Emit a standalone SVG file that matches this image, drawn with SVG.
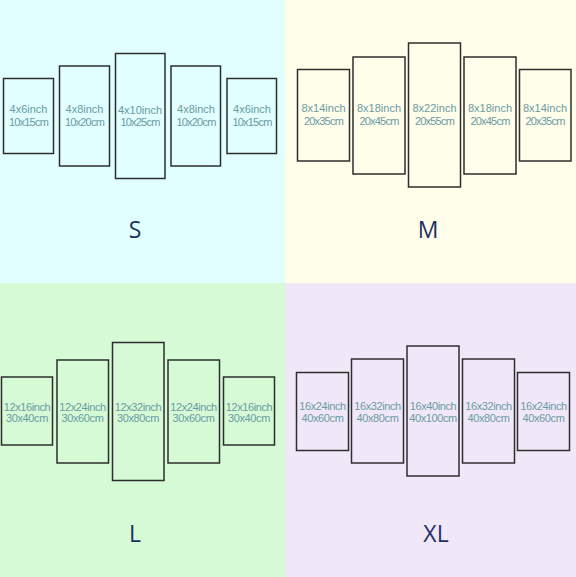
<svg xmlns="http://www.w3.org/2000/svg" width="576" height="577" viewBox="0 0 576 577">
<style>
.p{fill:none;stroke:#2e2e2e;stroke-width:1.5}
.t{font-family:"Liberation Sans",Arial,sans-serif;font-size:11px;fill:#6b9aa3;text-anchor:middle}
.n{letter-spacing:-0.8px}
.w{letter-spacing:-0.4px}
.lab{font-family:"Open Sans","Noto Sans",sans-serif;font-size:23px;fill:#1c3163;text-anchor:middle}
</style>
<rect x="0" y="0" width="285" height="283" fill="#e0fffe"/>
<rect x="285" y="0" width="291" height="283" fill="#fffeea"/>
<rect x="0" y="283" width="285" height="294" fill="#d5fad5"/>
<rect x="285" y="283" width="291" height="294" fill="#f0e8f8"/>
<g id="S">
<g id="s1"><rect class="p" x="3.5" y="78.5" width="50" height="75"/><text class="t" x="28.5" y="113">4x6inch</text><text class="t n" x="28.5" y="126">10x15cm</text></g>
<g id="s2"><rect class="p" x="59.5" y="66" width="50" height="100"/><text class="t" x="84.5" y="113">4x8inch</text><text class="t n" x="84.5" y="126">10x20cm</text></g>
<g id="s3"><rect class="p" x="115.5" y="53.5" width="49.5" height="125"/><text class="t" x="140" y="113.5">4x10inch</text><text class="t n" x="140" y="125.5">10x25cm</text></g>
<g id="s4"><rect class="p" x="171" y="66" width="49.5" height="100"/><text class="t" x="196" y="113">4x8inch</text><text class="t n" x="196" y="126">10x20cm</text></g>
<g id="s5"><rect class="p" x="227" y="78.5" width="49.5" height="75"/><text class="t" x="252" y="113">4x6inch</text><text class="t n" x="252" y="126">10x15cm</text></g>
<text class="lab" x="135" y="238">S</text>
</g>
<g id="M">
<g id="m1"><rect class="p" x="297.5" y="69.5" width="52" height="91.5"/><text class="t" x="323.5" y="111.5">8x14inch</text><text class="t n" x="323.5" y="125">20x35cm</text></g>
<g id="m2"><rect class="p" x="353" y="57" width="52" height="117"/><text class="t" x="379" y="111.5">8x18inch</text><text class="t n" x="379" y="125">20x45cm</text></g>
<g id="m3"><rect class="p" x="408.5" y="43" width="52" height="144"/><text class="t" x="434.5" y="111.5">8x22inch</text><text class="t n" x="434.5" y="125">20x55cm</text></g>
<g id="m4"><rect class="p" x="464" y="57" width="52" height="117"/><text class="t" x="490" y="111.5">8x18inch</text><text class="t n" x="490" y="125">20x45cm</text></g>
<g id="m5"><rect class="p" x="519.5" y="69.5" width="51.5" height="91.5"/><text class="t" x="545" y="111.5">8x14inch</text><text class="t n" x="545" y="125">20x35cm</text></g>
<text class="lab" x="428" y="238">M</text>
</g>
<g id="L">
<g id="l1"><rect class="p" x="1.5" y="377" width="51" height="68"/><text class="t w" x="27" y="410.5">12x16inch</text><text class="t w" x="27" y="422">30x40cm</text></g>
<g id="l2"><rect class="p" x="57" y="360" width="51.5" height="103"/><text class="t w" x="82.5" y="410.5">12x24inch</text><text class="t w" x="82.5" y="422">30x60cm</text></g>
<g id="l3"><rect class="p" x="112.5" y="342.5" width="51.5" height="138"/><text class="t w" x="138" y="410.5">12x32inch</text><text class="t w" x="138" y="422">30x80cm</text></g>
<g id="l4"><rect class="p" x="168" y="360" width="51.5" height="103"/><text class="t w" x="193.5" y="410.5">12x24inch</text><text class="t w" x="193.5" y="422">30x60cm</text></g>
<g id="l5"><rect class="p" x="223.5" y="377" width="51" height="68"/><text class="t w" x="249" y="410.5">12x16inch</text><text class="t w" x="249" y="422">30x40cm</text></g>
<text class="lab" x="135" y="542">L</text>
</g>
<g id="XL">
<g id="x1"><rect class="p" x="296.5" y="372.5" width="52" height="78"/><text class="t w" x="322.5" y="410">16x24inch</text><text class="t w" x="322.5" y="421.5">40x60cm</text></g>
<g id="x2"><rect class="p" x="351.5" y="359" width="52" height="104"/><text class="t w" x="377.5" y="410">16x32inch</text><text class="t w" x="377.5" y="421.5">40x80cm</text></g>
<g id="x3"><rect class="p" x="407" y="346" width="52" height="130"/><text class="t w" x="433" y="410">16x40inch</text><text class="t w" x="433" y="421.5">40x100cm</text></g>
<g id="x4"><rect class="p" x="462.5" y="359" width="52" height="104"/><text class="t w" x="488.5" y="410">16x32inch</text><text class="t w" x="488.5" y="421.5">40x80cm</text></g>
<g id="x5"><rect class="p" x="517.5" y="372.5" width="52" height="78"/><text class="t w" x="543.5" y="410">16x24inch</text><text class="t w" x="543.5" y="421.5">40x60cm</text></g>
<text class="lab" x="436" y="542">XL</text>
</g>
</svg>
